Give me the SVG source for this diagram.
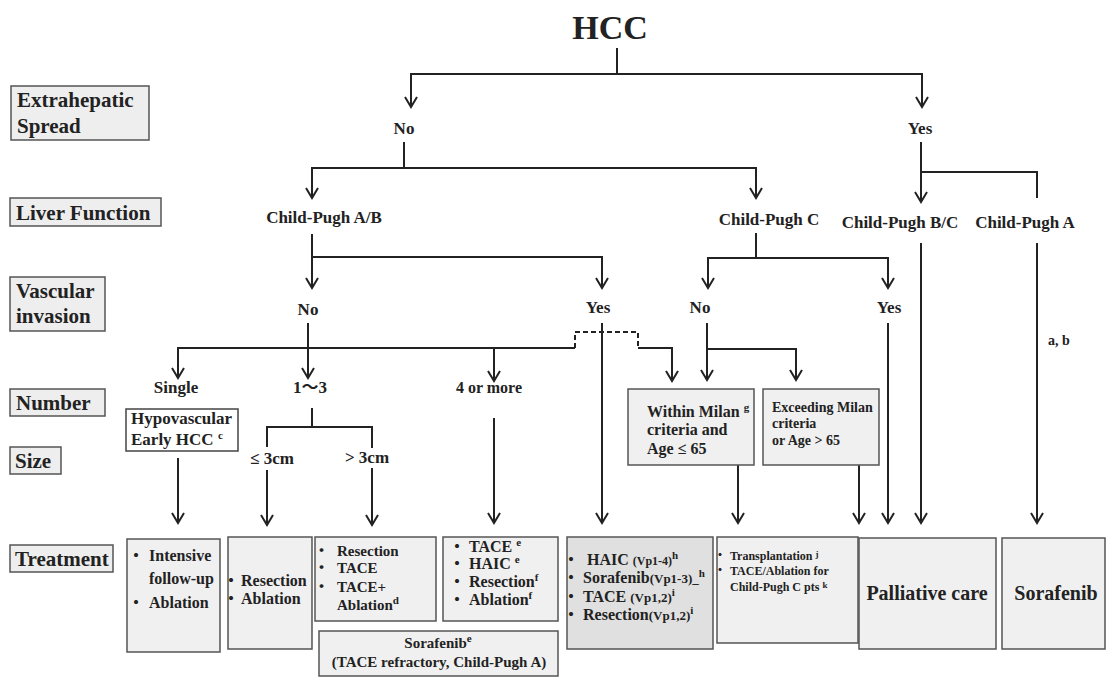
<svg xmlns="http://www.w3.org/2000/svg" width="1107" height="677" viewBox="0 0 1107 677">
<defs>
<style>
.t{font-family:"Liberation Serif","Noto Sans CJK JP",serif;font-weight:bold;fill:#222}
.lb{fill:#eeeeee;stroke:#555;stroke-width:1.5}
.tb{fill:#f0f0f0;stroke:#555;stroke-width:1.5}
.ln{stroke:#222;stroke-width:2;fill:none}
.ar{marker-end:url(#ah)}
.ds{stroke-dasharray:5,3}
.sup{font-size:11px}
</style>
<marker id="ah" viewBox="-12 -8 14 16" refX="0" refY="0" markerWidth="14" markerHeight="16" markerUnits="userSpaceOnUse" orient="auto">
<path d="M-10,-6 L0,0 L-10,6" fill="none" stroke="#222" stroke-width="2"/>
</marker>
</defs>
<rect width="1107" height="677" fill="#fff"/>

<g id="connectors">
<path class="ln" d="M617,48 V74"/>
<path class="ln ar" d="M617,74 H411 V107"/>
<path class="ln ar" d="M617,74 H922 V107"/>
<path class="ln" d="M404,142 V168"/>
<path class="ln ar" d="M404,168 H312 V198"/>
<path class="ln ar" d="M404,168 H756 V198"/>
<path class="ln ar" d="M921,142 V202"/>
<path class="ln" d="M921,172 H1037 V198"/>
<path class="ln ar" d="M312,234 V288"/>
<path class="ln ar" d="M312,257 H602 V288"/>
<path class="ln" d="M756,233 V258"/>
<path class="ln ar" d="M756,258 H708 V288"/>
<path class="ln ar" d="M756,258 H888 V288"/>
<path class="ln ar" d="M921,243 V523"/>
<path class="ln ar" d="M1037,243 V523"/>
<path class="ln ar" d="M308,323 V378"/>
<path class="ln ar" d="M308,348 H178 V378"/>
<path class="ln" d="M308,348 H575"/>
<path class="ln ds" d="M575,348 V332 H638 V348"/>
<path class="ln ar" d="M638,348 H672 V381"/>
<path class="ln ar" d="M494,348 V381"/>
<path class="ln ar" d="M602,323 V523"/>
<path class="ln ar" d="M707,323 V380"/>
<path class="ln ar" d="M707,349 H796 V380"/>
<path class="ln ar" d="M888,323 V523"/>
<path class="ln" d="M312,408 V427"/>
<path class="ln" d="M267,447 V427 H372 V448"/>
<path class="ln ar" d="M267,470 V525"/>
<path class="ln ar" d="M372,468 V525"/>
<path class="ln ar" d="M178,458 V523"/>
<path class="ln ar" d="M494,418 V523"/>
<path class="ln ar" d="M738,465 V523"/>
<path class="ln ar" d="M859,465 V523"/>
</g>

<g id="title"><text class="t" x="610" y="39" font-size="34" text-anchor="middle">HCC</text></g>

<g id="label-extrahepatic"><rect class="lb" x="11" y="86" width="138" height="54"/><text class="t" x="17" y="107" font-size="21">Extrahepatic</text><text class="t" x="17" y="133" font-size="21">Spread</text></g>
<g id="label-liver"><rect class="lb" x="10" y="198" width="151" height="28"/><text class="t" x="16" y="220" font-size="21">Liver Function</text></g>
<g id="label-vascular"><rect class="lb" x="10" y="277" width="95" height="54"/><text class="t" x="16" y="298" font-size="21">Vascular</text><text class="t" x="16" y="323" font-size="21">invasion</text></g>
<g id="label-number"><rect class="lb" x="10" y="389" width="95" height="27"/><text class="t" x="16" y="410" font-size="21">Number</text></g>
<g id="label-size"><rect class="lb" x="10" y="447" width="51" height="27"/><text class="t" x="15" y="468" font-size="21">Size</text></g>
<g id="label-treatment"><rect class="lb" x="10" y="545" width="103" height="27"/><text class="t" x="15" y="566" font-size="21">Treatment</text></g>

<g id="n-eh-no"><text class="t" x="404" y="134" font-size="17" text-anchor="middle">No</text></g>
<g id="n-eh-yes"><text class="t" x="920" y="134" font-size="17" text-anchor="middle">Yes</text></g>
<g id="n-cpab"><text class="t" x="324" y="223" font-size="17" text-anchor="middle">Child-Pugh A/B</text></g>
<g id="n-cpc"><text class="t" x="769" y="225" font-size="17" text-anchor="middle">Child-Pugh C</text></g>
<g id="n-cpbc"><text class="t" x="900" y="228" font-size="17" text-anchor="middle">Child-Pugh B/C</text></g>
<g id="n-cpa"><text class="t" x="1025" y="228" font-size="17" text-anchor="middle">Child-Pugh A</text></g>
<g id="n-vi-no1"><text class="t" x="308" y="315" font-size="17" text-anchor="middle">No</text></g>
<g id="n-vi-yes1"><text class="t" x="598" y="313" font-size="17" text-anchor="middle">Yes</text></g>
<g id="n-vi-no2"><text class="t" x="700" y="313" font-size="17" text-anchor="middle">No</text></g>
<g id="n-vi-yes2"><text class="t" x="889" y="313" font-size="17" text-anchor="middle">Yes</text></g>
<g id="n-ab"><text class="t" x="1048" y="345" font-size="14">a, b</text></g>
<g id="n-single"><text class="t" x="176" y="393" font-size="17" text-anchor="middle">Single</text></g>
<g id="n-1-3"><text class="t" x="310" y="393" font-size="17" text-anchor="middle">1〜3</text></g>
<g id="n-4more"><text class="t" x="489" y="393" font-size="16" text-anchor="middle">4 or more</text></g>
<g id="n-le3"><text class="t" x="272" y="464" font-size="17" text-anchor="middle">≤ 3cm</text></g>
<g id="n-gt3"><text class="t" x="367" y="463" font-size="17" text-anchor="middle">&gt; 3cm</text></g>
<g id="n-hypo"><rect x="126" y="409" width="112" height="42" fill="#fff" stroke="#444" stroke-width="1.5"/><text class="t" x="131" y="424" font-size="17">Hypovascular</text><text class="t" x="131" y="445" font-size="17">Early HCC <tspan class="sup" baseline-shift="super">c</tspan></text></g>
<g id="n-within"><rect class="tb" x="628" y="389" width="126" height="76"/><text class="t" x="647" y="417" font-size="16">Within Milan <tspan class="sup" baseline-shift="super">g</tspan></text><text class="t" x="647" y="435" font-size="16">criteria and</text><text class="t" x="647" y="454" font-size="16">Age ≤ 65</text></g>
<g id="n-exceed"><rect class="tb" x="763" y="389" width="116" height="76"/><text class="t" x="772" y="412" font-size="14">Exceeding Milan</text><text class="t" x="772" y="428" font-size="14">criteria</text><text class="t" x="772" y="445" font-size="14">or Age &gt; 65</text></g>

<g id="t1"><rect class="tb" x="127" y="539" width="93" height="113"/><text class="t" font-size="16"><tspan x="128" y="561">・</tspan><tspan x="149" y="561">Intensive</tspan><tspan x="149" y="584">follow-up</tspan><tspan x="128" y="608">・</tspan><tspan x="149" y="608">Ablation</tspan></text></g>
<g id="t2"><rect class="tb" x="228" y="537" width="84" height="112"/><text class="t" font-size="16"><tspan x="223" y="586">・</tspan><tspan x="241" y="586">Resection</tspan><tspan x="223" y="604">・</tspan><tspan x="241" y="604">Ablation</tspan></text></g>
<g id="t3"><rect class="tb" x="315" y="537" width="121" height="84"/><text class="t" font-size="15"><tspan x="314" y="556">・</tspan><tspan x="337" y="556">Resection</tspan><tspan x="314" y="573">・</tspan><tspan x="337" y="573">TACE</tspan><tspan x="314" y="592">・</tspan><tspan x="337" y="592">TACE+</tspan><tspan x="337" y="610">Ablation</tspan><tspan class="sup" baseline-shift="super">d</tspan></text></g>
<g id="t3b"><rect class="tb" x="319" y="631" width="239" height="45"/><text class="t" x="438" y="648" font-size="15" text-anchor="middle">Sorafenib<tspan class="sup" baseline-shift="super">e</tspan></text><text class="t" x="439" y="667" font-size="15" text-anchor="middle">(TACE refractory, Child-Pugh A)</text></g>
<g id="t4"><rect class="tb" x="443" y="537" width="115" height="84"/><text class="t" font-size="16"><tspan x="449" y="552">・</tspan><tspan x="469" y="552">TACE </tspan><tspan class="sup" baseline-shift="super">e</tspan><tspan x="449" y="569">・</tspan><tspan x="469" y="569">HAIC </tspan><tspan class="sup" baseline-shift="super">e</tspan><tspan x="449" y="587">・</tspan><tspan x="469" y="587">Resection</tspan><tspan class="sup" baseline-shift="super">f</tspan><tspan x="449" y="605">・</tspan><tspan x="469" y="605">Ablation</tspan><tspan class="sup" baseline-shift="super">f</tspan></text></g>
<g id="t5"><rect x="567" y="537" width="146" height="112" fill="#e0e0e0" stroke="#555" stroke-width="1.5"/><text class="t" font-size="16"><tspan x="563" y="565">・</tspan><tspan x="587" y="565">HAIC </tspan><tspan font-size="12">(Vp1-4)</tspan><tspan class="sup" baseline-shift="super">h</tspan><tspan x="563" y="583">・</tspan><tspan x="583" y="583">Sorafenib</tspan><tspan font-size="13">(Vp1-3)_</tspan><tspan class="sup" baseline-shift="super">h</tspan><tspan x="563" y="602">・</tspan><tspan x="583" y="602">TACE </tspan><tspan font-size="13">(Vp1,2)</tspan><tspan class="sup" baseline-shift="super">i</tspan><tspan x="563" y="620">・</tspan><tspan x="583" y="620">Resection</tspan><tspan font-size="13">(Vp1,2)</tspan><tspan class="sup" baseline-shift="super">i</tspan></text></g>
<g id="t6"><rect class="tb" x="717" y="537" width="141" height="106"/><text class="t" font-size="12"><tspan x="714" y="560">・</tspan><tspan x="730" y="560">Transplantation </tspan><tspan font-size="9" baseline-shift="3">j</tspan><tspan x="714" y="575">・</tspan><tspan x="730" y="575">TACE/Ablation for</tspan><tspan x="730" y="591">Child-Pugh C pts </tspan><tspan font-size="9" baseline-shift="3">k</tspan></text></g>
<g id="t7"><rect class="tb" x="859" y="538" width="137" height="111"/><text class="t" x="927" y="600" font-size="20" text-anchor="middle">Palliative care</text></g>
<g id="t8"><rect class="tb" x="1002" y="538" width="103" height="111"/><text class="t" x="1056" y="600" font-size="20" text-anchor="middle">Sorafenib</text></g>
</svg>
